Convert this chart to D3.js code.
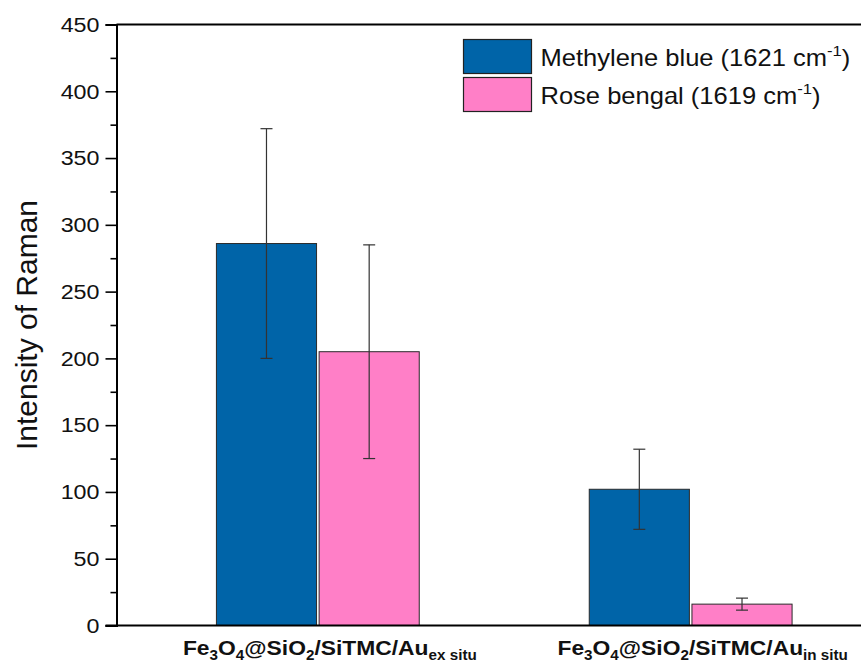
<!DOCTYPE html>
<html>
<head>
<meta charset="utf-8">
<script src="https://cdn.jsdelivr.net/npm/d3@7"></script>
<style>
  html, body { margin: 0; padding: 0; background: #fff; }
  svg { display: block; font-family: Arial, "Liberation Sans", sans-serif; }
</style>
</head>
<body>
<svg id="chart" width="861" height="669"></svg>
<script>
// Raman intensity at ~1620 cm-1 for the two Au-loading routes
const categories = ["ex situ", "in situ"];
const seriesNames = ["Methylene blue", "Rose bengal"];
const seriesWavenumbers = ["1621", "1619"];
const methyleneBlue = [286, 102];
const methyleneBlueErr = [86, 30];
const roseBengal = [205, 16];
const roseBengalErr = [80, 4.5];
const yTicks = [0, 50, 100, 150, 200, 250, 300, 350, 400, 450];

const colors = ["#0064A8", "#FF7FC7"];
const sx = 1.11; // horizontal text stretch

const svg = d3.select("#chart");
const margin = { left: 116.5, top: 24.5, bottom: 625.5, right: 892 };

const y = d3.scaleLinear().domain([0, 450]).range([margin.bottom, margin.top]);
const x0 = d3.scaleBand().domain(categories)
  .range([margin.left, margin.right])
  .paddingInner(0.456).paddingOuter(0.268);
const x1 = d3.scaleBand().domain(seriesNames)
  .range([0, x0.bandwidth()]).paddingInner(0.025);

const rows = categories.map((c, i) => ({
  cat: c,
  vals: [
    { s: seriesNames[0], v: methyleneBlue[i], e: methyleneBlueErr[i], color: colors[0] },
    { s: seriesNames[1], v: roseBengal[i], e: roseBengalErr[i], color: colors[1] }
  ]
}));

// bars
const groups = svg.append("g").selectAll("g").data(rows).join("g")
  .attr("transform", d => `translate(${x0(d.cat)},0)`);
groups.selectAll("rect").data(d => d.vals).join("rect")
  .attr("x", d => x1(d.s))
  .attr("y", d => y(d.v))
  .attr("width", x1.bandwidth())
  .attr("height", d => y(0) - y(d.v))
  .attr("fill", d => d.color)
  .attr("stroke", "#2a2a2a")
  .attr("stroke-width", 1);

// error bars
const eb = groups.selectAll("g.err").data(d => d.vals).join("g").attr("class", "err")
  .attr("stroke", "#333").attr("stroke-width", 1.2);
eb.append("line")
  .attr("x1", d => x1(d.s) + x1.bandwidth() / 2)
  .attr("x2", d => x1(d.s) + x1.bandwidth() / 2)
  .attr("y1", d => y(d.v + d.e)).attr("y2", d => y(d.v - d.e));
[1, -1].forEach(sgn => {
  eb.append("line")
    .attr("x1", d => x1(d.s) + x1.bandwidth() / 2 - 6)
    .attr("x2", d => x1(d.s) + x1.bandwidth() / 2 + 6)
    .attr("y1", d => y(d.v + sgn * d.e)).attr("y2", d => y(d.v + sgn * d.e));
});

// y axis with minor ticks
const yAxis = svg.append("g").attr("transform", `translate(${margin.left},0)`)
  .call(d3.axisLeft(y).tickValues(yTicks).tickSize(11).tickPadding(6).tickFormat(d3.format("d")));
yAxis.select(".domain").attr("stroke-width", 2);
yAxis.selectAll(".tick line").attr("stroke-width", 1.6);
yAxis.selectAll(".tick text")
  .attr("x", -17 / sx)
  .attr("transform", `scale(${sx},1)`)
  .attr("font-size", 21).attr("fill", "#111");
svg.append("g").attr("transform", `translate(${margin.left},0)`)
  .call(d3.axisLeft(y).tickValues(d3.range(25, 450, 50)).tickSize(6).tickFormat(""))
  .call(g => g.select(".domain").remove())
  .selectAll("line").attr("stroke-width", 1.6);

// frame: bottom and top lines
svg.append("line").attr("x1", margin.left - 11).attr("x2", 861)
  .attr("y1", y(0)).attr("y2", y(0)).attr("stroke", "#000").attr("stroke-width", 2);
svg.append("line").attr("x1", margin.left).attr("x2", 861)
  .attr("y1", y(450)).attr("y2", y(450)).attr("stroke", "#000").attr("stroke-width", 2);

// y title
svg.append("text")
  .attr("transform", `translate(37,${(margin.top + margin.bottom) / 2}) rotate(-90)`)
  .attr("text-anchor", "middle")
  .attr("font-size", 30).attr("fill", "#111")
  .text("Intensity of Raman");

// category labels
const xl = svg.append("g").selectAll("text").data(categories).join("text")
  .attr("transform", d => `translate(${x0(d) + x0.bandwidth() / 2 + 12},655) scale(${sx * 0.98},1)`)
  .attr("text-anchor", "middle")
  .attr("font-size", 21).attr("font-weight", "bold").attr("fill", "#111");
xl.append("tspan").text("Fe");
xl.append("tspan").attr("font-size", 14).attr("dy", 5).text("3");
xl.append("tspan").attr("dy", -5).text("O");
xl.append("tspan").attr("font-size", 14).attr("dy", 5).text("4");
xl.append("tspan").attr("dy", -5).text("@SiO");
xl.append("tspan").attr("font-size", 14).attr("dy", 5).text("2");
xl.append("tspan").attr("dy", -5).text("/SiTMC/Au");
xl.append("tspan").attr("font-size", 14).attr("dy", 5).text(d => d);

// legend
const leg = svg.append("g").selectAll("g").data(seriesNames).join("g")
  .attr("transform", (d, i) => `translate(463.5,${39.5 + i * 38})`);
leg.append("rect").attr("width", 68).attr("height", 34)
  .attr("fill", (d, i) => colors[i]).attr("stroke", "#222").attr("stroke-width", 1.2);
const lt = leg.append("text")
  .attr("transform", `translate(77,26) scale(${sx},1)`)
  .attr("font-size", 23).attr("fill", "#111");
lt.append("tspan").text((d, i) => `${d} (${seriesWavenumbers[i]} cm`);
lt.append("tspan").attr("font-size", 15).attr("dy", -10).text("-1");
lt.append("tspan").attr("dy", 10).text(")");
</script>
</body>
</html>
